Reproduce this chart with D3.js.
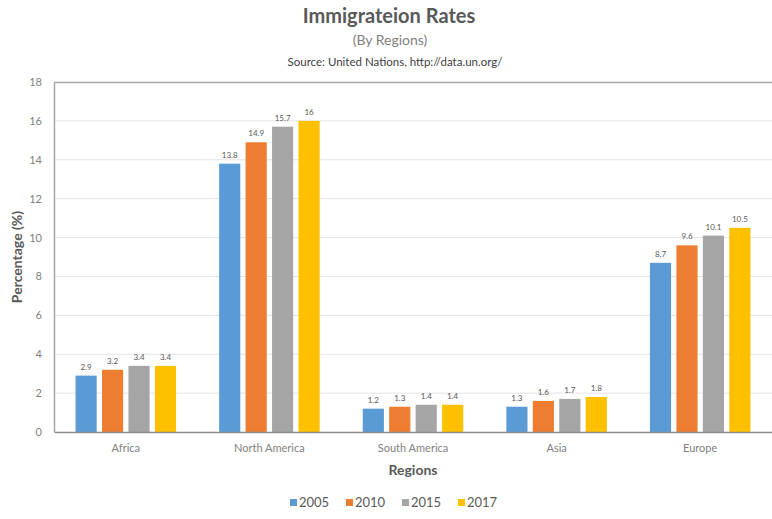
<!DOCTYPE html>
<html>
<head>
<meta charset="utf-8">
<script src="https://cdn.jsdelivr.net/npm/d3@7"></script>
<style>
  html, body { margin: 0; padding: 0; background: #fff; }
  svg { display: block; font-family: Lato, "Open Sans", sans-serif; }
</style>
</head>
<body>
<svg id="chart" width="772" height="519"></svg>
<script>
// Immigration rates by region, UN data
const regions = ["Africa", "North America", "South America", "Asia", "Europe"];
const years = ["2005", "2010", "2015", "2017"];
const rate2005 = [2.9, 13.8, 1.2, 1.3, 8.7];
const rate2010 = [3.2, 14.9, 1.3, 1.6, 9.6];
const rate2015 = [3.4, 15.7, 1.4, 1.7, 10.1];
const rate2017 = [3.4, 16, 1.4, 1.8, 10.5];
const yTicks = [0, 2, 4, 6, 8, 10, 12, 14, 16, 18];
const seriesColors = ["#5B9BD5", "#ED7D31", "#A5A5A5", "#FFC000"];

const series = [rate2005, rate2010, rate2015, rate2017];
const rows = regions.map((r, i) => ({
  region: r,
  values: years.map((y, k) => ({ year: y, value: series[k][i] }))
}));

const svg = d3.select("#chart");
const margin = { left: 54, right: 0, top: 82, bottom: 87 };
const W = 772, H = 519;
const plotW = W - margin.left - margin.right;
const plotH = H - margin.top - margin.bottom;

const x0 = d3.scaleBand().domain(regions).range([0, plotW]).paddingInner(0.3).paddingOuter(0.15);
const x1 = d3.scaleBand().domain(years).range([0, x0.bandwidth()]).paddingInner(0.2).paddingOuter(0);
const y = d3.scaleLinear().domain([0, 18]).range([plotH, 0]);
const color = d3.scaleOrdinal().domain(years).range(seriesColors);

// Titles
svg.append("text").attr("x", 389).attr("y", 23).attr("text-anchor", "middle")
  .attr("font-size", 20).attr("font-weight", "bold").attr("fill", "#595959")
  .text("Immigrateion Rates");
svg.append("text").attr("x", 390).attr("y", 45).attr("text-anchor", "middle")
  .attr("font-size", 14).attr("fill", "#7f7f7f").text("(By Regions)");
svg.append("text").attr("x", 395).attr("y", 66).attr("text-anchor", "middle")
  .attr("font-size", 11.5).attr("fill", "#404040").text("Source: United Nations, http://data.un.org/");

const g = svg.append("g").attr("transform", `translate(${margin.left},${margin.top})`);

// Gridlines
g.append("g").selectAll("line").data(yTicks.slice(1, -1)).join("line")
  .attr("x1", 0).attr("x2", plotW)
  .attr("y1", d => y(d)).attr("y2", d => y(d))
  .attr("stroke", "#e4e4e4").attr("stroke-width", 1);

// Plot frame (left and top)
g.append("line").attr("x1", 0.5).attr("x2", 0.5).attr("y1", 0).attr("y2", plotH)
  .attr("stroke", "#a6a6a6").attr("stroke-width", 1.5);
g.append("line").attr("x1", 0).attr("x2", plotW).attr("y1", 0.5).attr("y2", 0.5)
  .attr("stroke", "#a6a6a6").attr("stroke-width", 1.5);

// Y axis tick labels
const yAxis = d3.axisLeft(y).tickValues(yTicks).tickSize(0).tickPadding(12);
g.append("g").call(yAxis)
  .call(a => a.select(".domain").remove())
  .selectAll("text").attr("font-size", 11).attr("fill", "#7f7f7f")
  .attr("font-family", "Lato, sans-serif");

// Bars
const groups = g.append("g").selectAll("g").data(rows).join("g")
  .attr("transform", d => `translate(${x0(d.region)},0)`);
groups.selectAll("rect").data(d => d.values).join("rect")
  .attr("x", d => x1(d.year)).attr("width", x1.bandwidth())
  .attr("y", d => y(d.value)).attr("height", d => plotH - y(d.value))
  .attr("fill", d => color(d.year));
groups.selectAll("text").data(d => d.values).join("text")
  .attr("x", d => x1(d.year) + x1.bandwidth() / 2)
  .attr("y", d => y(d.value) - 6)
  .attr("text-anchor", "middle").attr("font-size", 8).attr("fill", "#595959")
  .text(d => d.value);

// X axis
const xAxis = d3.axisBottom(x0).tickSize(0).tickPadding(12);
g.append("g").attr("transform", `translate(0,${plotH})`).call(xAxis)
  .call(a => a.select(".domain").attr("stroke", "#8c8c8c").attr("stroke-width", 1.5))
  .selectAll("text").attr("font-size", 11).attr("fill", "#7f7f7f")
  .attr("font-family", "Lato, sans-serif");

// Axis titles
svg.append("text").attr("transform", `translate(22,${margin.top + plotH / 2}) rotate(-90)`)
  .attr("text-anchor", "middle").attr("font-size", 14).attr("font-weight", "bold")
  .attr("fill", "#595959").text("Percentage (%)");
svg.append("text").attr("x", margin.left + plotW / 2).attr("y", 475)
  .attr("text-anchor", "middle").attr("font-size", 14).attr("font-weight", "bold")
  .attr("fill", "#595959").text("Regions");

// Legend
const legendX = [290, 346, 402, 458];
const legend = svg.append("g").selectAll("g").data(years).join("g")
  .attr("transform", (d, i) => `translate(${legendX[i]},507)`);
legend.append("rect").attr("x", 0).attr("y", -8).attr("width", 7).attr("height", 7)
  .attr("fill", d => color(d));
legend.append("text").attr("x", 9).attr("y", 0).attr("font-size", 13)
  .attr("fill", "#595959").text(d => d);
</script>
</body>
</html>
